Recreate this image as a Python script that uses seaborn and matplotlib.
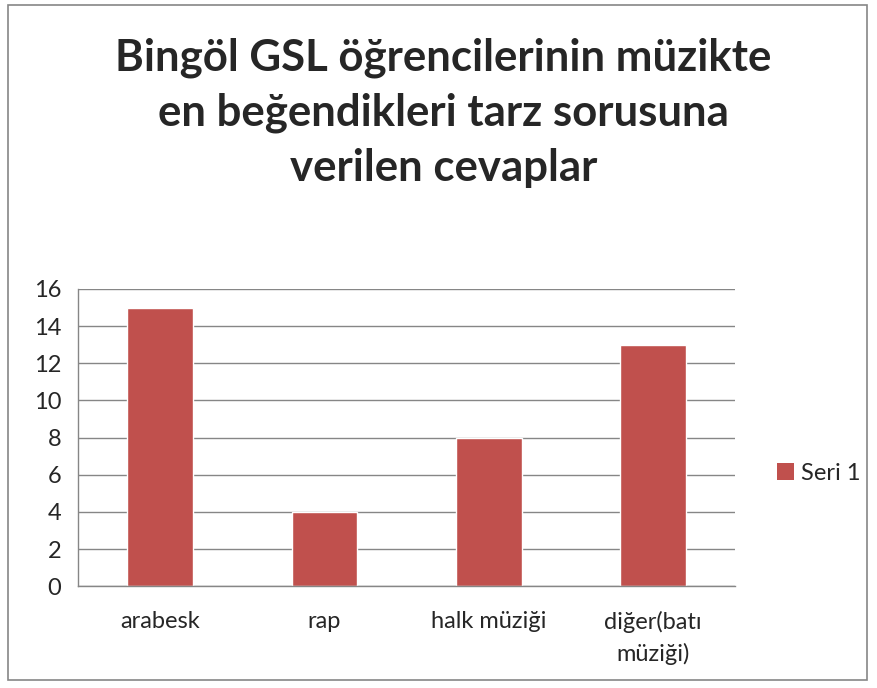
import matplotlib.pyplot as plt
import seaborn as sns
import pandas as pd
from matplotlib.patches import Rectangle, Patch

categories = ['arabesk', 'rap', 'halk müziği', 'diğer(batı\nmüziği)']
values = [15, 4, 8, 13]
series_name = 'Seri 1'
title = 'Bingöl GSL öğrencilerinin müzikte\nen beğendikleri tarz sorusuna\nverilen cevaplar'

df = pd.DataFrame({'Kategori': categories, 'Deger': values})

sns.set_style('white')
plt.rcParams['font.family'] = ['Lato', 'DejaVu Sans']

fig = plt.figure(figsize=(8.78, 6.88), dpi=100)
ax = fig.add_axes([0.0888, 0.148, 0.7485, 0.432])

bar_color = '#C0504D'
sns.barplot(data=df, x='Kategori', y='Deger', color=bar_color, width=0.4,
            saturation=1, ax=ax)

ax.set_xlim(-0.5, 3.5)
ax.set_ylim(0, 16)
ax.set_yticks(range(0, 17, 2))
ax.yaxis.grid(True, color='#868686', linewidth=1)
ax.set_axisbelow(True)
for s in ['top', 'right']:
    ax.spines[s].set_visible(False)
for s in ['left', 'bottom']:
    ax.spines[s].set_color('#868686')
    ax.spines[s].set_linewidth(1)

ax.set_xticks([-0.5, 0.5, 1.5, 2.5, 3.5], minor=True)
ax.tick_params(axis='x', which='major', length=0, pad=18, labelsize=17)
ax.tick_params(axis='x', which='minor', length=7, color='#868686', width=1, direction='out')
ax.tick_params(axis='y', length=8, color='#868686', width=1, direction='out', labelsize=17, pad=4)
for lbl in ax.get_xticklabels():
    lbl.set_linespacing(1.55)
ax.set_xlabel('')
ax.set_ylabel('')

fig.text(0.505, 0.836, title, ha='center', va='center', fontsize=31.5,
         fontweight='bold', linespacing=1.45)

handle = Patch(facecolor=bar_color, edgecolor='none')
fig.legend([handle], [series_name], loc='center left', bbox_to_anchor=(0.872, 0.312),
           frameon=False, fontsize=17, handlelength=0.7, handleheight=0.7,
           handletextpad=0.3, borderpad=0)

fig.patches.append(Rectangle((0.009, 0.011), 0.979, 0.982, transform=fig.transFigure,
                             fill=False, edgecolor='#868686', linewidth=1.2))

plt.savefig('out.png', dpi=100)
plt.close()
